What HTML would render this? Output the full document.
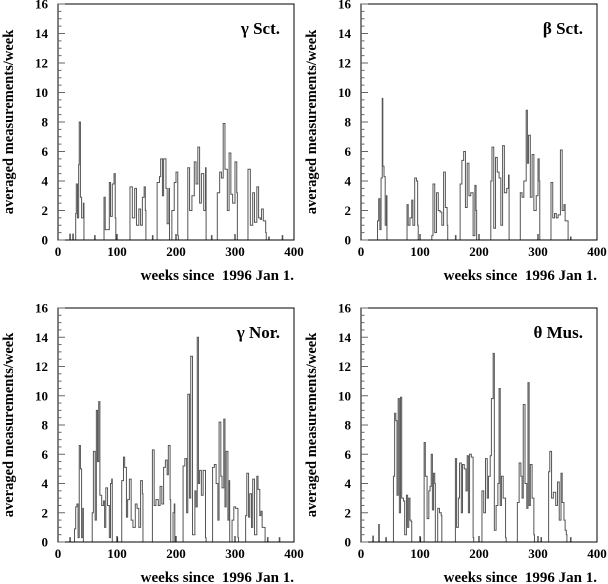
<!DOCTYPE html>
<html><head><meta charset="utf-8"><style>
html,body{margin:0;padding:0;background:#fff;}
svg{display:block;}
text{font-family:"Liberation Serif","Times New Roman",serif;font-weight:bold;}
</style></head><body>
<svg id="c" width="608" height="584" viewBox="0 0 608 584"></svg>
<script>
const panelNames = ["\u03b3 Sct.", "\u03b2 Sct.", "\u03b3 Nor.", "\u03b8 Mus."];
const yTicks = [0,2,4,6,8,10,12,14,16];
const xTicks = [0,100,200,300,400];
const gSctWeeks = [20,25,30,31,33,35,36,38,40,43,62,78,80,83,87,89,92,95,97,122,126,130,133,137,140,143,146,148,160,168,172,174,177,179,183,185,188,193,197,200,203,220,223,227,231,234,237,240,243,247,250,260,270,274,277,280,283,287,290,293,296,300,303,322,326,330,333,337,340,343,345,348,352,357,380];
const gSctVals = [0.4,0.4,1.8,3.8,1.5,5.1,8.0,2.9,1.5,2.5,0.3,2.9,0.7,0.7,3.9,1.6,3.8,4.5,1.5,3.6,1.5,3.5,1.0,2.1,1.0,2.9,3.6,2.0,0.3,3.9,4.3,5.5,3.0,5.5,3.5,1.1,3.5,2.0,3.9,4.6,0.3,4.9,2.0,3.0,5.3,3.8,6.3,2.5,4.5,2.0,4.9,0.3,3.2,4.6,4.2,7.9,4.8,2.0,5.9,3.1,2.5,5.3,3.2,4.8,1.0,3.2,1.2,3.6,1.5,1.4,2.1,1.3,0.5,0.2,0.3];
const bSctWeeks = [28,30,32,34,36,37,39,41,43,78,80,83,86,88,91,94,96,120,122,125,128,131,134,137,140,143,146,160,168,171,174,177,180,183,186,190,193,195,220,222,225,228,231,234,237,240,243,247,250,270,273,276,280,282,284,287,290,293,297,300,302,322,325,328,331,334,338,341,344,346,350,355];
const bSctVals = [1.3,2.8,0.7,4.2,9.6,5.0,4.3,1.0,3.0,2.4,1.0,1.5,2.7,1.0,4.2,4.0,1.0,0.3,3.8,0.5,3.2,2.0,1.9,1.0,4.6,2.2,1.0,0.3,3.8,5.4,6.0,2.2,5.2,3.0,3.2,0.3,3.7,2.0,4.0,6.3,0.8,5.6,4.6,4.2,1.0,6.4,3.2,3.5,4.4,3.2,2.9,4.0,8.8,5.2,7.1,2.9,5.8,2.0,3.0,5.5,4.0,3.9,1.5,1.8,1.5,1.7,6.1,2.0,2.4,1.3,1.3,0.2];
const gNorWeeks = [20,28,30,32,34,36,38,40,42,58,60,63,65,67,69,71,74,77,79,81,84,87,89,91,100,108,111,113,116,118,121,124,127,131,134,137,140,143,160,163,166,170,173,176,179,182,185,187,190,195,197,212,215,218,220,223,225,228,232,234,236,238,240,243,246,250,262,265,268,271,273,276,278,281,283,285,288,290,295,298,301,305,318,320,323,325,328,330,333,337,339,342,344,346,350,355,375];
const gNorVals = [0.3,0.9,2.4,2.6,0.3,6.6,5.0,0.3,2.3,2.0,6.2,1.5,9.0,5.5,9.6,3.2,2.5,2.8,1.0,3.7,2.5,0.3,4.0,4.3,0.3,4.2,5.8,5.1,1.7,2.9,4.3,1.5,1.0,2.6,2.3,1.0,4.2,3.3,6.3,2.5,2.9,2.5,3.8,2.6,5.1,5.6,4.6,6.6,2.9,2.0,2.6,5.2,5.7,2.0,10.1,3.0,12.7,0.5,3.5,2.4,14.0,4.0,4.9,3.2,4.9,0.3,5.1,5.3,4.0,1.5,8.2,4.5,3.7,8.4,2.4,6.2,1.5,4.2,1.5,2.4,2.3,0.3,1.8,4.7,1.7,3.3,1.0,4.3,0.5,4.5,3.6,1.8,2.1,1.0,1.0,0.3,0.3];
const tMusWeeks = [20,30,42,55,57,59,61,63,65,67,69,72,74,77,79,81,83,85,100,107,109,112,115,117,119,121,123,125,130,133,136,160,162,165,167,170,172,175,178,180,182,184,187,190,205,208,211,214,216,219,221,224,226,229,232,234,236,238,241,245,265,268,271,273,275,278,281,283,285,287,290,293,305,318,320,323,326,330,333,336,339,341,344,346,348,355];
const tMusVals = [0.4,1.2,0.3,4.5,8.8,8.3,3.2,9.8,2.0,9.9,3.0,2.8,0.5,3.2,1.0,3.0,1.5,1.4,0.3,6.8,4.5,1.6,3.5,3.8,6.0,2.2,4.7,4.0,2.3,2.0,1.8,5.7,1.0,3.0,5.4,2.0,5.3,5.0,3.5,5.9,2.0,6.0,5.8,0.3,3.5,2.0,5.7,3.0,4.5,5.9,9.8,12.9,0.8,2.5,4.0,10.5,2.5,4.5,3.0,0.3,2.7,5.4,4.5,3.0,9.4,4.0,2.3,10.9,2.5,5.3,3.0,0.5,0.3,4.8,6.2,3.0,3.4,2.5,4.1,1.5,4.7,2.7,1.5,0.8,0.5,0.3];

const panels = [
 {name:panelNames[0], weeks:gSctWeeks, vals:gSctVals, L:58, R:294, T:4, B:240, dn:"gamma-sct"},
 {name:panelNames[1], weeks:bSctWeeks, vals:bSctVals, L:361, R:597, T:4, B:240, dn:"beta-sct"},
 {name:panelNames[2], weeks:gNorWeeks, vals:gNorVals, L:58, R:294, T:308, B:542, dn:"gamma-nor"},
 {name:panelNames[3], weeks:tMusWeeks, vals:tMusVals, L:361, R:597, T:308, B:542, dn:"theta-mus"}
];
const NS="http://www.w3.org/2000/svg";
const svg=document.getElementById('c');
function mk(tag,attrs,parent){const e=document.createElementNS(NS,tag);for(const k in attrs)e.setAttribute(k,attrs[k]);(parent||svg).appendChild(e);return e;}
panels.forEach(p=>{
  const g=mk('g',{});
  
  
  const xs=w=>p.L+w/400*(p.R-p.L);
  const ys=v=>p.B-v/16*(p.B-p.T);
  let d="M"+xs(0)+","+ys(0);
  let level=0;
  for(let i=0;i<p.weeks.length;i++){
    const w=p.weeks[i], v=p.vals[i];
    const next=i+1<p.weeks.length?p.weeks[i+1]:999;
    const end=(next-w<=4)?next:w+1;
    if(level===0) d+=" L"+xs(w)+","+ys(0);
    d+=" L"+xs(w)+","+ys(v)+" L"+xs(end)+","+ys(v);
    level=v;
    if(next-w>4){ d+=" L"+xs(end)+","+ys(0); level=0; }
  }
  d+=" L"+xs(400)+","+ys(0);
  const h=mk('path',{d:d,fill:'none',stroke:'#555','stroke-width':1},g);
  
  
  const fr=mk('rect',{x:p.L,y:p.T,width:p.R-p.L,height:p.B-p.T,fill:'none',stroke:'#000','stroke-width':1},g);
  
  
  for(let v=0;v<=16;v+=0.5){
    const len=(v%2===0)?7:3.5;
    mk('line',{x1:p.L,x2:p.L+len,y1:ys(v),y2:ys(v),stroke:'#666','stroke-width':1},g);
  }
  yTicks.forEach(v=>{
    const t=mk('text',{x:p.L-10,y:ys(v)+4.5,'text-anchor':'end','font-size':13},g);
    t.textContent=v;
    
    
  });
  xTicks.forEach(w=>{
    mk('line',{x1:xs(w),x2:xs(w),y1:p.B,y2:p.B-6,stroke:'#000','stroke-width':1},g);
    const t=mk('text',{x:xs(w),y:p.B+16,'text-anchor':'middle','font-size':13},g);
    t.textContent=w;
    
    
  });
  const xt=mk('text',{x:p.R,y:p.B+40,'text-anchor':'end','font-size':15},g);
  xt.textContent="weeks since  1996 Jan 1.";
  xt.style.whiteSpace='pre';
  
  
  const cy=(p.T+p.B)/2;
  const yt=mk('text',{x:p.L-45,y:cy,'text-anchor':'middle','font-size':14.5,transform:'rotate(-90 '+(p.L-45)+' '+cy+')'},g);
  yt.textContent="averaged measurements/week";
  
  
  const lb=mk('text',{x:p.R-14,y:p.T+30,'text-anchor':'end','font-size':17},g);
  lb.textContent=p.name;
  
  
});
</script>
</body></html>
